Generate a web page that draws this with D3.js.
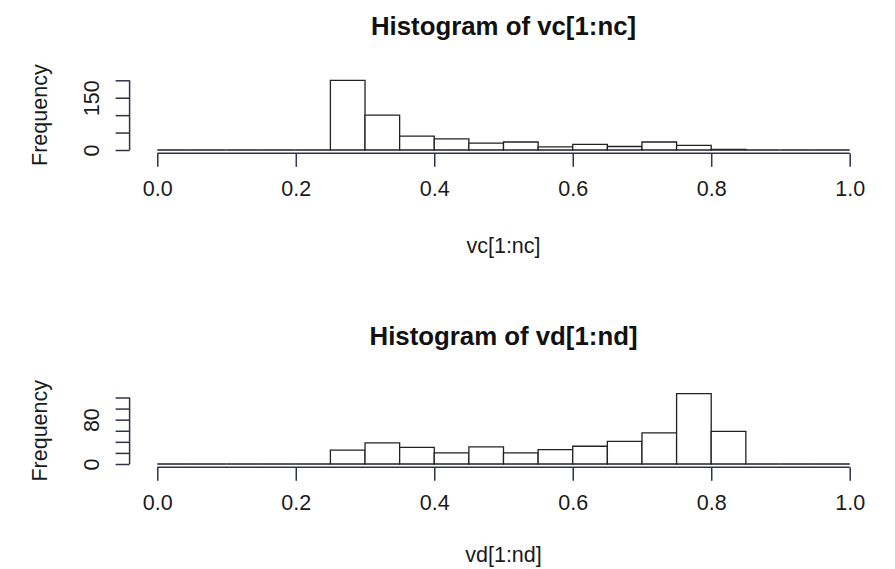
<!DOCTYPE html>
<html><head><meta charset="utf-8">
<script src="https://cdn.jsdelivr.net/npm/d3@7"></script>
<style>body{margin:0;background:#fff}svg{display:block;font-family:"Liberation Sans",Arial,sans-serif}</style>
</head><body><svg id="c" width="895" height="569"></svg>
<script>
// ---- data ----
const breaks = d3.range(0, 21).map(i => +(i * 0.05).toFixed(2));
const countsC = [0,0,0,0,0,200,100,40,32,20,23,9,16,10,23,13,2,0,0,0];
const countsD = [0,0,0,0,0,25,38,30,20,31,20,26,32,41,56,127,59,0,0,0];
const xTicks = [0,0.2,0.4,0.6,0.8,1.0];
const yTicksC = [0,50,100,150,200];
const yLabelsC = [0,150];
const yTicksD = [0,20,40,60,80,100,120];
const yLabelsD = [0,80];
const titles = ["Histogram of vc[1:nc]", "Histogram of vd[1:nd]"];
const xLabels = ["vc[1:nc]", "vd[1:nd]"];

const svg = d3.select("#c");
const axisCol = "#2e3348", barCol = "#222";
const x = d3.scaleLinear().domain([0,1]).range([157.3, 849.7]);

const panels = [
  {counts: countsC, yTicks: yTicksC, yLabels: yLabelsC, yDom: [0,200], yRange: [150, 80.3], axisY: 153.3, titleY: 35, xlabY: 252.5, title: titles[0], xlab: xLabels[0]},
  {counts: countsD, yTicks: yTicksD, yLabels: yLabelsD, yDom: [0,120], yRange: [464, 397.5], axisY: 467.3, titleY: 345, xlabY: 562, title: titles[1], xlab: xLabels[1]}
];

panels.forEach(p => {
  const y = d3.scaleLinear().domain(p.yDom).range(p.yRange);
  const g = svg.append("g");
  const bins = p.counts.map((c,i) => ({x0: breaks[i], x1: breaks[i+1], c}));
  g.selectAll("path.bar").data(bins).join("path").attr("class","bar")
    .attr("d", d => `M${x(d.x0)},${y(0)}V${y(d.c)}H${x(d.x1)}V${y(0)}Z`)
    .attr("fill","#fff").attr("stroke",barCol).attr("stroke-width",1.3);
  // x axis
  const xa = g.append("g").attr("transform",`translate(0,${p.axisY})`)
    .call(d3.axisBottom(x).tickValues(xTicks).tickFormat(d3.format(".1f")).tickSize(13.5).tickPadding(14));
  xa.select(".domain").attr("d", `M${x(0)},0H${x(1)}`).attr("stroke",axisCol).attr("stroke-width",1.5);
  xa.selectAll(".tick line").attr("stroke",axisCol).attr("stroke-width",1.5);
  xa.selectAll(".tick text").attr("font-size",21.5).attr("fill","#1a1a1a").attr("font-family","Liberation Sans, Arial, sans-serif");
  // y axis
  const ya = g.append("g").attr("transform",`translate(129.6,0)`)
    .call(d3.axisLeft(y).tickValues(p.yTicks).tickSize(14).tickFormat(d => p.yLabels.includes(d) ? d : ""));
  ya.select(".domain").attr("d", `M0,${y(p.yTicks[0])}V${y(p.yTicks[p.yTicks.length-1])}`).attr("stroke",axisCol).attr("stroke-width",1.5);
  ya.selectAll(".tick line").attr("stroke",axisCol).attr("stroke-width",1.5);
  ya.selectAll(".tick text").attr("font-size",21.5).attr("fill","#1a1a1a")
    .attr("font-family","Liberation Sans, Arial, sans-serif")
    .attr("transform","rotate(-90)").attr("x",0).attr("y",-30.5).attr("dy",0)
    .attr("text-anchor","middle");
  // title
  g.append("text").attr("x",503.5).attr("y",p.titleY).attr("text-anchor","middle")
    .attr("font-size",25.8).attr("font-weight","bold").attr("fill","#111").text(p.title);
  // x label
  g.append("text").attr("x",503.5).attr("y",p.xlabY).attr("text-anchor","middle")
    .attr("font-size",21.5).attr("fill","#1a1a1a").text(p.xlab);
  // y label
  const yc = (p.yRange[0] + p.yRange[1]) / 2;
  g.append("text").attr("transform",`translate(47.3,${yc}) rotate(-90)`).attr("text-anchor","middle")
    .attr("font-size",21.5).attr("fill","#1a1a1a").text("Frequency");
});
</script></body></html>
